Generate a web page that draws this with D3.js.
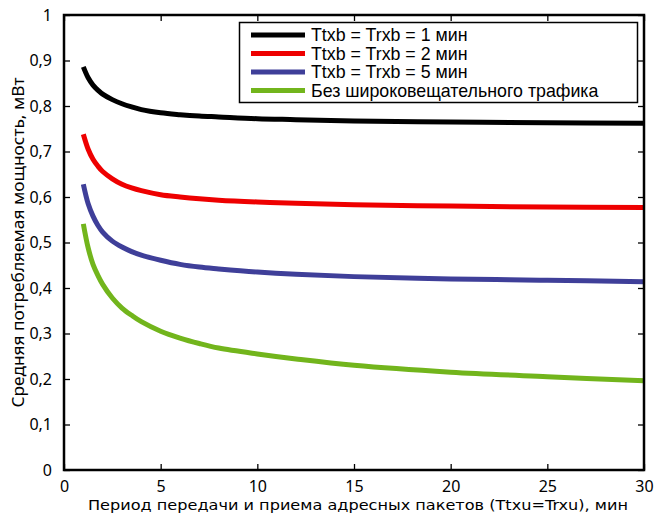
<!DOCTYPE html>
<html><head><meta charset="utf-8">
<script src="https://cdn.jsdelivr.net/npm/d3@7"></script>
<style>
html,body{margin:0;padding:0;background:#fff;}
svg{display:block;}
.tick text{font-family:"Noto Sans",sans-serif;font-size:16px;fill:#000;}
</style></head>
<body><svg id="c" width="655" height="514"></svg>
<script>
const periods   = [1, 1.25, 1.5, 1.75, 2, 2.5, 3, 3.5, 4, 5, 6, 7, 8, 10, 12, 15, 20, 25, 30];
const series1min = [0.886, 0.862, 0.846, 0.835, 0.826, 0.814, 0.805, 0.798, 0.792, 0.785, 0.781, 0.778, 0.776, 0.772, 0.770, 0.767, 0.765, 0.763, 0.762];
const series2min = [0.738, 0.705, 0.683, 0.668, 0.656, 0.640, 0.628, 0.620, 0.614, 0.605, 0.600, 0.596, 0.593, 0.589, 0.586, 0.583, 0.580, 0.578, 0.577];
const series5min = [0.628, 0.585, 0.558, 0.538, 0.523, 0.503, 0.490, 0.480, 0.472, 0.461, 0.452, 0.446, 0.442, 0.435, 0.430, 0.425, 0.420, 0.417, 0.414];
const seriesNone = [0.541, 0.488, 0.452, 0.428, 0.408, 0.378, 0.356, 0.340, 0.326, 0.305, 0.290, 0.278, 0.268, 0.255, 0.244, 0.230, 0.215, 0.205, 0.196];
const seriesNames = ["Ttxb = Trxb = 1 мин", "Ttxb = Trxb = 2 мин", "Ttxb = Trxb = 5 мин", "Без широковещательного трафика"];
const seriesColors = ["#000000", "#ee0000", "#3f3f99", "#72b51c"];
const xTicks = [0, 5, 10, 15, 20, 25, 30];
const yTicks = [0, 0.1, 0.2, 0.3, 0.4, 0.5, 0.6, 0.7, 0.8, 0.9, 1];
const xTitle = "Период передачи и приема адресных пакетов (Ttxu=Trxu), мин";
const yTitle = "Средняя потребляемая мощность, мВт";

const allSeries = [series1min, series2min, series5min, seriesNone];
const L = 64, R = 644, T = 15, B = 470;
const svg = d3.select("#c");
const x = d3.scaleLinear().domain([0, 30]).range([L, R]);
const y = d3.scaleLinear().domain([0, 1]).range([B, T]);
const fmt = d => String(d).replace(".", ",");

const xAx = svg.append("g").attr("transform", `translate(0,${B})`)
  .call(d3.axisBottom(x).tickValues(xTicks).tickSize(-6).tickPadding(13).tickFormat(fmt));
const yAx = svg.append("g").attr("transform", `translate(${L},0)`)
  .call(d3.axisLeft(y).tickValues(yTicks).tickSize(-6).tickPadding(12).tickFormat(fmt));
const xTop = svg.append("g").attr("transform", `translate(0,${T})`)
  .call(d3.axisTop(x).tickValues(xTicks).tickSize(-6).tickFormat(""));
const yRight = svg.append("g").attr("transform", `translate(${R},0)`)
  .call(d3.axisRight(y).tickValues(yTicks).tickSize(-6).tickFormat(""));
[xAx, yAx, xTop, yRight].forEach(g => {
  g.select(".domain").remove();
  g.selectAll(".tick line").attr("stroke", "#000").attr("stroke-width", 1.3);
});
xAx.selectAll(".tick text").attr("y", 11).attr("dy", "0.71em");

const line = d3.line().x((d, i) => x(periods[i])).y(d => y(d)).curve(d3.curveCatmullRom.alpha(0.5));
allSeries.forEach((s, k) => {
  svg.append("path").datum(s).attr("d", line).attr("fill", "none")
    .attr("stroke", seriesColors[k]).attr("stroke-width", 5).attr("stroke-linejoin", "round");
});

svg.append("rect").attr("x", L).attr("y", T).attr("width", R - L).attr("height", B - T)
  .attr("fill", "none").attr("stroke", "#000").attr("stroke-width", 2.5);

// legend
const lg = svg.append("g");
lg.append("rect").attr("x", 239.5).attr("y", 22.5).attr("width", 398).attr("height", 80)
  .attr("fill", "#fff").attr("stroke", "#000").attr("stroke-width", 1.5);
seriesNames.forEach((n, k) => {
  const yy = 35 + k * 18.5;
  lg.append("line").attr("x1", 251).attr("x2", 305).attr("y1", yy).attr("y2", yy)
    .attr("stroke", seriesColors[k]).attr("stroke-width", 5);
  lg.append("text").attr("x", 311).attr("y", yy + 6).text(n)
    .attr("font-family", "Liberation Sans, Arial, sans-serif").attr("font-size", 17.8);
});

svg.append("text").attr("x", 358).attr("y", 510).attr("text-anchor", "middle")
  .attr("font-family", "DejaVu Sans, sans-serif").attr("font-size", 14.5)
  .attr("textLength", 540).attr("lengthAdjust", "spacingAndGlyphs").text(xTitle);
svg.append("text").attr("transform", `translate(24,${(T + B) / 2}) rotate(-90)`)
  .attr("text-anchor", "middle").attr("font-family", "Noto Sans, sans-serif")
  .attr("font-size", 15.5).attr("textLength", 330).attr("lengthAdjust", "spacingAndGlyphs").text(yTitle);
</script></body></html>
